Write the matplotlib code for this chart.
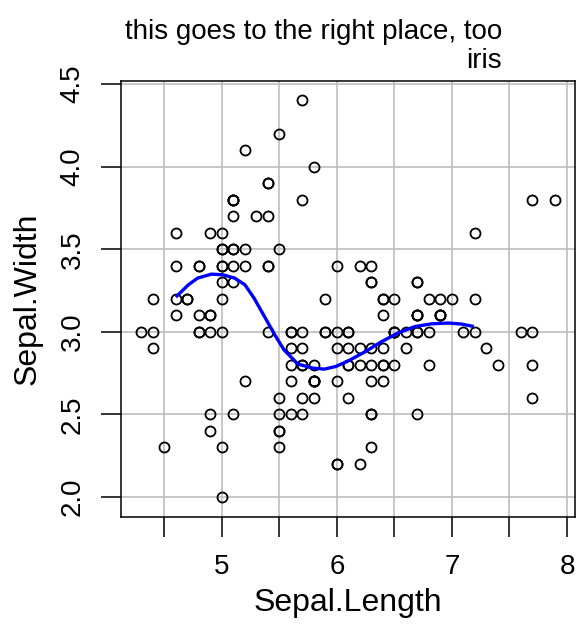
import matplotlib
matplotlib.use("Agg")
import matplotlib.pyplot as plt

plt.rcParams['font.family'] = ['Liberation Sans', 'DejaVu Sans']

# iris data as shown
sepal_length = [5.1,4.9,4.7,4.6,5.0,5.4,4.6,5.0,4.4,4.9,5.4,4.8,4.8,4.3,5.8,5.7,5.4,5.1,5.7,5.1,
                5.4,5.1,4.6,5.1,4.8,5.0,5.0,5.2,5.2,4.7,4.8,5.4,5.2,5.5,4.9,5.0,5.5,4.9,4.4,5.1,
                5.0,4.5,4.4,5.0,5.1,4.8,5.1,4.6,5.3,5.0,
                7.0,6.4,6.9,5.5,6.5,5.7,6.3,4.9,6.6,5.2,5.0,5.9,6.0,6.1,5.6,6.7,5.6,5.8,6.2,5.6,
                5.9,6.1,6.3,6.1,6.4,6.6,6.8,6.7,6.0,5.7,5.5,5.5,5.8,6.0,5.4,6.0,6.7,6.3,5.6,5.5,
                5.5,6.1,5.8,5.0,5.6,5.7,5.7,6.2,5.1,5.7,
                6.3,5.8,7.1,6.3,6.5,7.6,4.9,7.3,6.7,7.2,6.5,6.4,6.8,5.7,5.8,6.4,6.5,7.7,7.7,6.0,
                6.9,5.6,7.7,6.3,6.7,7.2,6.2,6.1,6.4,7.2,7.4,7.9,6.4,6.3,6.1,7.7,6.3,6.4,6.0,6.9,
                6.7,6.9,5.8,6.8,6.7,6.7,6.3,6.5,6.2,5.9]
sepal_width = [3.5,3.0,3.2,3.1,3.6,3.9,3.4,3.4,2.9,3.1,3.7,3.4,3.0,3.0,4.0,4.4,3.9,3.5,3.8,3.8,
               3.4,3.7,3.6,3.3,3.4,3.0,3.4,3.5,3.4,3.2,3.1,3.4,4.1,4.2,3.1,3.2,3.5,3.6,3.0,3.4,
               3.5,2.3,3.2,3.5,3.8,3.0,3.8,3.2,3.7,3.3,
               3.2,3.2,3.1,2.3,2.8,2.8,3.3,2.4,2.9,2.7,2.0,3.0,2.2,2.9,2.9,3.1,3.0,2.7,2.2,2.5,
               3.2,2.8,2.5,2.8,2.9,3.0,2.8,3.0,2.9,2.6,2.4,2.4,2.7,2.7,3.0,3.4,3.1,2.3,3.0,2.5,
               2.6,3.0,2.6,2.3,2.7,3.0,2.9,2.9,2.5,2.8,
               3.3,2.7,3.0,2.9,3.0,3.0,2.5,2.9,2.5,3.6,3.2,2.7,3.0,2.5,2.8,3.2,3.0,3.8,2.6,2.2,
               3.2,2.8,2.8,2.7,3.3,3.2,2.8,3.0,2.8,3.0,2.8,3.8,2.8,2.8,2.6,3.0,3.4,3.1,3.0,3.1,
               3.1,3.1,2.7,3.2,3.3,3.0,2.5,3.0,3.4,3.0]

# smoothed curve
smooth_x = [4.60, 4.71, 4.79, 4.91, 5.01, 5.11, 5.20, 5.28, 5.37, 5.46, 5.54, 5.66,
            5.79, 5.89, 5.99, 6.10, 6.25, 6.39, 6.54, 6.68, 6.82, 6.97, 7.08, 7.19]
smooth_y = [3.210, 3.285, 3.325, 3.349, 3.345, 3.325, 3.285, 3.204, 3.093, 2.982, 2.891, 2.805,
            2.780, 2.774, 2.790, 2.824, 2.881, 2.941, 2.996, 3.032, 3.048, 3.053, 3.047, 3.032]

x_ticks = [4.5, 5, 5.5, 6, 6.5, 7, 7.5, 8]
x_ticklabels = ['', '5', '', '6', '', '7', '', '8']
y_ticks = [2.0, 2.5, 3.0, 3.5, 4.0, 4.5]
y_ticklabels = ['2.0', '2.5', '3.0', '3.5', '4.0', '4.5']

W, H = 581, 627
fig = plt.figure(figsize=(W / 100, H / 100), dpi=100)
L, R, T, B = 121, 575, 81, 517
ax = fig.add_axes([L / W, 1 - B / H, (R - L) / W, (B - T) / H])

ax.set_xlim(4.1237, 8.0695)
ax.set_ylim(1.879, 4.518)

ax.set_xticks(x_ticks)
ax.set_xticklabels(x_ticklabels)
ax.set_yticks(y_ticks)
ax.set_yticklabels(y_ticklabels, rotation=90, va='center')

ax.grid(True, color='#BEBEBE', linewidth=1.2, zorder=0)
ax.set_axisbelow(True)

ax.plot(sepal_length, sepal_width, 'o', mfc='none', mec='black', ms=7.2, mew=1.3, zorder=3)
ax.plot(smooth_x, smooth_y, color='#0000FF', linewidth=2.4, zorder=4, solid_capstyle='butt')

for s in ax.spines.values():
    s.set_linewidth(1.1)
    s.set_color('black')

ax.tick_params(axis='both', direction='out', length=14.4, width=1.1, labelsize=20, colors='black')
ax.tick_params(axis='x', pad=12)
ax.tick_params(axis='y', pad=11)

ax.set_xlabel('Sepal.Length', fontsize=23)
ax.set_ylabel('Sepal.Width', fontsize=23)
ax.xaxis.set_label_coords(0.5, -0.163)
ax.yaxis.set_label_coords(-0.172, 0.5)

fig.text(502 / W, 1 - 39 / H, 'this goes to the right place, too', ha='right', va='baseline', fontsize=20)
fig.text(502 / W, 1 - 68 / H, 'iris', ha='right', va='baseline', fontsize=20)

fig.savefig('out.png', dpi=100)
